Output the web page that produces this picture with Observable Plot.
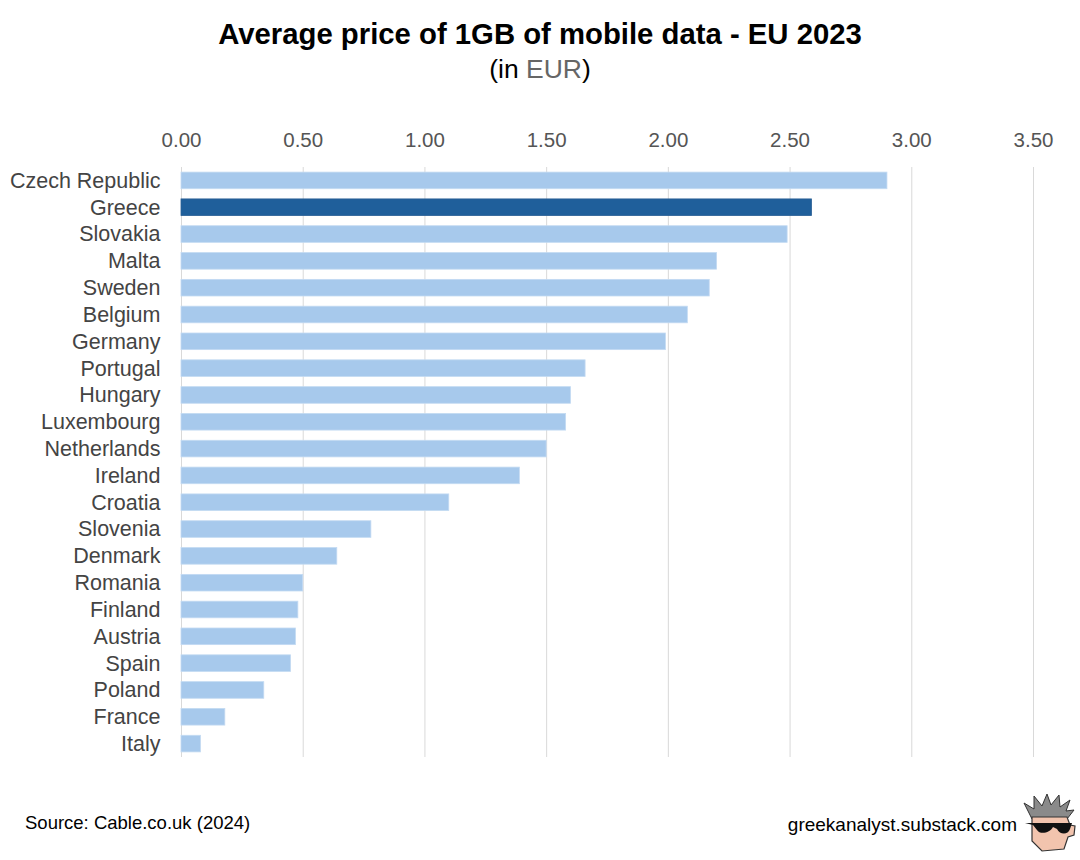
<!DOCTYPE html>
<html>
<head>
<meta charset="utf-8">
<script src="https://cdn.jsdelivr.net/npm/d3@7"></script>
<script src="https://cdn.jsdelivr.net/npm/@observablehq/plot@0.6"></script>
<style>
  html, body { margin: 0; padding: 0; background: #fff; }
  body { width: 1080px; height: 860px; position: relative; overflow: hidden;
         font-family: "Liberation Sans", Arial, Helvetica, sans-serif; }
  .abs { position: absolute; line-height: 1; white-space: nowrap; }
  #title { top: 18.5px; left: 0; width: 1080px; text-align: center; font-size: 29.3px; font-weight: bold; color: #000; }
  #subtitle { top: 55.5px; left: 0; width: 1080px; text-align: center; font-size: 26.5px; color: #000; }
  #subtitle .g { color: #666; }
  #chart { position: absolute; top: 100px; left: 0; }
  #source { top: 813.5px; left: 25px; font-size: 18.5px; color: #000; }
  #site { top: 815px; right: 63px; font-size: 19px; color: #000; }
  #logo { position: absolute; left: 1020px; top: 793px; }
</style>
</head>
<body>
<div id="title" class="abs">Average price of 1GB of mobile data - EU 2023</div>
<div id="subtitle" class="abs">(in <span class="g">EUR</span>)</div>
<div id="chart"></div>
<div id="source" class="abs">Source: Cable.co.uk (2024)</div>
<div id="site" class="abs">greekanalyst.substack.com</div>
<svg id="logo" width="58" height="60" viewBox="0 0 58 60">
  <polygon points="10,22 4,10 14,16 14,3 22,13 27,1 31,12 39,2 40,14 50,7 46,18 54,17 47,26 12,26" fill="#8a8a8a" stroke="#333" stroke-width="1"/>
  <polygon points="12,24 47,24 50,32 55,33 54,42 48,44 44,56 22,58 12,48" fill="#f2c4ae" stroke="#333" stroke-width="1.2"/>
  <path d="M5,30 L52,30 L50,36 C48,42 40,42 37,36 L33,34 C30,40 20,42 17,37 L13,32 Z" fill="#111"/>
</svg>
<script>
const countries = ["Czech Republic","Greece","Slovakia","Malta","Sweden","Belgium","Germany","Portugal","Hungary","Luxembourg","Netherlands","Ireland","Croatia","Slovenia","Denmark","Romania","Finland","Austria","Spain","Poland","France","Italy"];
const values = [2.90,2.59,2.49,2.20,2.17,2.08,1.99,1.66,1.60,1.58,1.50,1.39,1.10,0.78,0.64,0.50,0.48,0.47,0.45,0.34,0.18,0.08];
const highlight = "Greece";
const xTicks = [0, 0.5, 1, 1.5, 2, 2.5, 3, 3.5];
const colors = { base: "#a7c9ec", highlight: "#1f5f9b" };

const data = countries.map((c, i) => ({ country: c, value: values[i] }));

const chart = Plot.plot({
  width: 1080,
  height: 680,
  marginTop: 67,
  marginBottom: 23,
  marginLeft: 181,
  marginRight: 47,
  style: { fontFamily: '"Liberation Sans", Arial, Helvetica, sans-serif', background: "white", overflow: "visible" },
  x: { domain: [0, 3.5] },
  y: { domain: countries, padding: 0, round: false },
  color: { type: "identity" },
  marks: [
    Plot.gridX(xTicks, { stroke: "#d9d9d9", strokeOpacity: 1, strokeWidth: 1 }),
    Plot.barX(data, {
      x: "value",
      y: "country",
      insetTop: 5.1,
      insetBottom: 5.1,
      fill: d => d.country === highlight ? colors.highlight : colors.base,
      stroke: d => d.country === highlight ? "#2a5f94" : "#c3daf2",
      strokeWidth: 0.8
    }),
    Plot.axisX(xTicks, {
      anchor: "top",
      tickSize: 0,
      tickPadding: 21,
      tickFormat: d3.format(".2f"),
      fontSize: 20.5,
      fill: "#555",
      label: null
    }),
    Plot.axisY({
      anchor: "left",
      tickSize: 0,
      tickPadding: 21,
      fontSize: 21.5,
      fill: "#444",
      label: null
    })
  ]
});
document.getElementById("chart").appendChild(chart);
</script>
</body>
</html>
